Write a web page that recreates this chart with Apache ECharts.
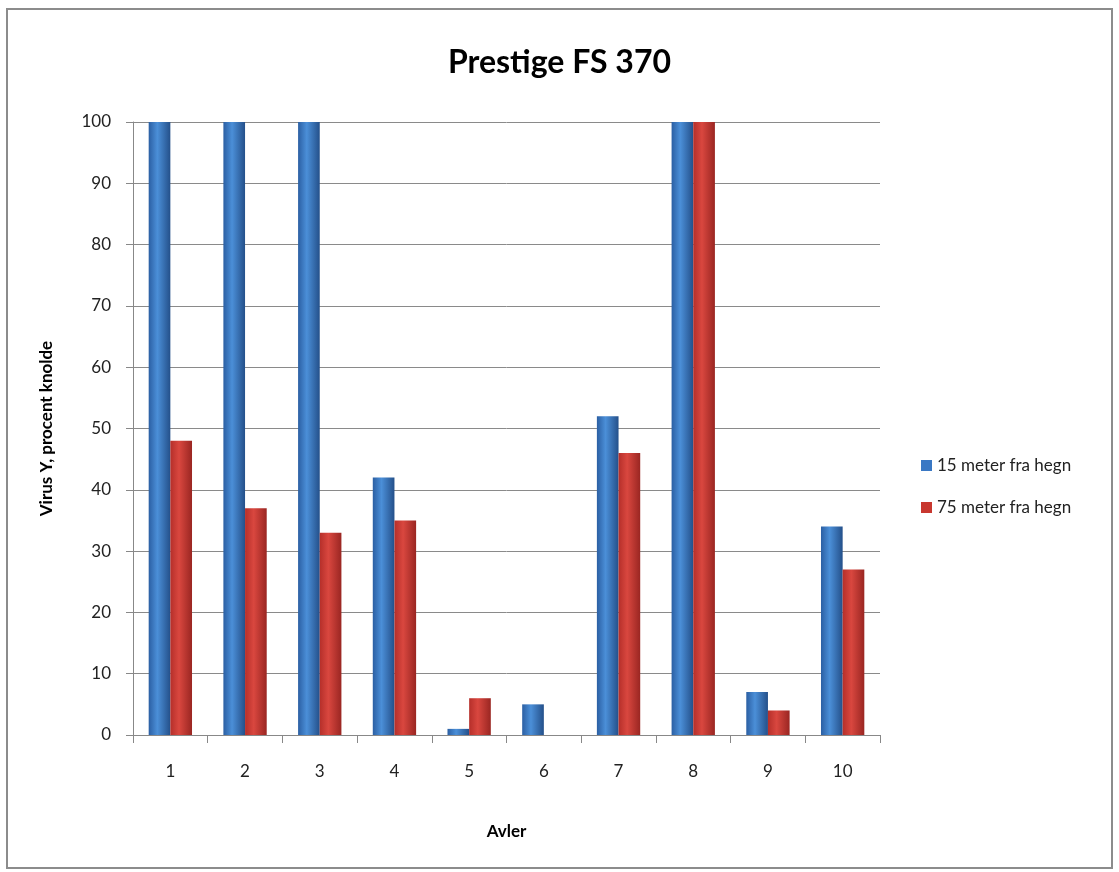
<!DOCTYPE html>
<html>
<head>
<meta charset="utf-8">
<script src="https://cdn.jsdelivr.net/npm/echarts@6/dist/echarts.min.js"></script>
<style>
  html, body { margin: 0; padding: 0; background: #fff; }
  #chart { width: 1119px; height: 872px; }
</style>
</head>
<body>
<div id="chart"></div>
<script>
var categories = ['1', '2', '3', '4', '5', '6', '7', '8', '9', '10'];
var near = [100, 100, 100, 42, 1, 5, 52, 100, 7, 34];
var far = [48, 37, 33, 35, 6, 0, 46, 100, 4, 27];
var seriesNames = ['15 meter fra hegn', '75 meter fra hegn'];

var font = 'Lato, "Open Sans", sans-serif';

function barGrad(dark, light, edge) {
  return new echarts.graphic.LinearGradient(0, 0, 1, 0, [
    { offset: 0, color: dark },
    { offset: 0.4, color: light },
    { offset: 1, color: edge }
  ]);
}

var myChart = echarts.init(document.getElementById('chart'), null, { renderer: 'canvas' });

var option = {
  animation: false,
  backgroundColor: '#fff',
  title: {
    text: 'Prestige FS 370',
    left: 'center',
    top: 42,
    textStyle: { fontFamily: font, fontSize: 32, fontWeight: 'bold', color: '#000' }
  },
  graphic: [{
    type: 'rect',
    shape: { x: 7, y: 9, width: 1105, height: 859 },
    style: { fill: 'none', stroke: '#8c8c8c', lineWidth: 2 }
  }],
  legend: {
    orient: 'vertical',
    left: 916,
    top: 452,
    icon: 'rect',
    itemWidth: 11,
    itemHeight: 11,
    itemGap: 25,
    textStyle: { fontFamily: font, fontSize: 17, color: '#222' },
    data: [
      { name: seriesNames[0], itemStyle: { color: '#3a78c4' } },
      { name: seriesNames[1], itemStyle: { color: '#c8372f' } }
    ]
  },
  grid: { left: 133, right: 239, top: 122, bottom: 137 },
  xAxis: {
    type: 'category',
    data: categories,
    name: 'Avler',
    nameLocation: 'middle',
    nameGap: 88,
    nameTextStyle: { fontFamily: font, fontSize: 17, fontWeight: 'bold', color: '#000' },
    axisLine: { lineStyle: { color: '#888', width: 1 } },
    axisTick: { show: true, length: 8, lineStyle: { color: '#888' } },
    axisLabel: { fontFamily: font, fontSize: 17, color: '#222', margin: 28 }
  },
  yAxis: {
    type: 'value',
    min: 0,
    max: 100,
    interval: 10,
    name: 'Virus Y, procent knolde',
    nameLocation: 'middle',
    nameGap: 78,
    nameTextStyle: { fontFamily: font, fontSize: 17, fontWeight: 'bold', color: '#000' },
    axisLine: { show: true, lineStyle: { color: '#888', width: 1 } },
    axisTick: { show: true, length: 7, lineStyle: { color: '#888' } },
    axisLabel: { fontFamily: font, fontSize: 17, color: '#222', margin: 22 },
    splitLine: { lineStyle: { color: '#8a8a8a', width: 1 } }
  },
  series: [
    {
      name: seriesNames[0],
      type: 'bar',
      data: near,
      barGap: '0%',
      barCategoryGap: '42%',
      itemStyle: { color: barGrad('#2b5fa3', '#4b8fd8', '#24508a') }
    },
    {
      name: seriesNames[1],
      type: 'bar',
      data: far,
      barGap: '0%',
      barCategoryGap: '42%',
      itemStyle: { color: barGrad('#b52f2a', '#d9473f', '#9a2622') }
    }
  ]
};

myChart.setOption(option);
window.addEventListener('resize', myChart.resize);
</script>
</body>
</html>
